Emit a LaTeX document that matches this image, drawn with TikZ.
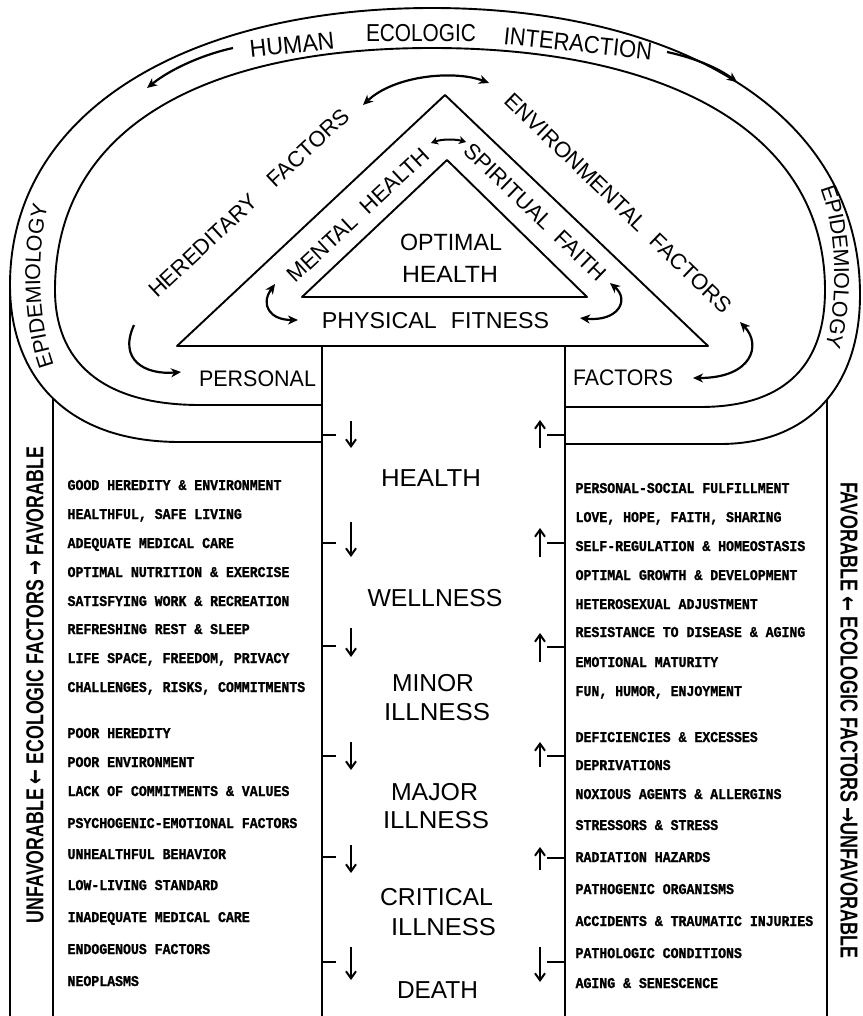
\documentclass[tikz,border=0pt]{standalone}
\usepackage{fontspec}
\usepackage{graphicx}
\setmainfont{Liberation Sans}
\newfontfamily\listfont[FakeStretch=0.88,FakeBold=1.2]{Liberation Mono}
\newfontfamily\arrowfont{DejaVu Sans}
\usetikzlibrary{arrows.meta,decorations.text,intersections}
\newcommand\setfs[1]{\fontsize{#1}{#1}\selectfont}
\newcommand\fitw[2]{\resizebox{#1pt}{\height}{#2}}

\begin{document}
\begin{tikzpicture}[x=1pt,y=-1pt,
  every node/.style={inner sep=0pt, outer sep=0pt},
  rim/.style={line width=1.9pt, line join=round},
  level/.style={font=\setfs{24.5}},
  side/.style={font=\setfs{22}},
  banner/.style={font=\setfs{24.5}},
  item/.style={font=\listfont\bfseries\setfs{15}, anchor=base west},
  swing/.style={line width=2.2pt, {Stealth[length=10pt,width=9pt,inset=3pt]}-{Stealth[length=10pt,width=9pt,inset=3pt]}},
  swingone/.style={line width=2.2pt, -{Stealth[length=10pt,width=9pt,inset=3pt]}},
  drift/.style={line width=2pt, -{Straight Barb[length=7pt,width=10pt]}},
  tick/.style={line width=2pt}
]
\useasboundingbox (0,0) rectangle (862,1016);

% ---- the ecologic loop: outer and inner rims
\draw[rim, name path=outer]
  (322,442) -- (180,442) .. controls (60,442) and (10,370) .. (10,285)
  .. controls (10,110) and (190,8) .. (432,8)
  .. controls (674,8) and (860,110) .. (860,295)
  .. controls (860,385) and (810,444) .. (720,444) -- (565,444);
\draw[rim]
  (322,405) -- (200,405) .. controls (100,405) and (55,360) .. (55,290)
  .. controls (55,130) and (200,48) .. (432,48)
  .. controls (664,48) and (825,130) .. (825,290)
  .. controls (825,370) and (780,407) .. (700,407) -- (565,407);

% ---- column rules
\draw[rim] (10,285) -- (10,1016);
\path[name path=cutL] (53,300) -- (53,500);
\path[name path=cutR] (827,300) -- (827,500);
\draw[rim, name intersections={of=outer and cutL, by=jl}] (jl) -- (53,1016);
\draw[rim, name intersections={of=outer and cutR, by=jr}] (jr) -- (827,1016);
\draw[rim] (322,346) -- (322,1016);
\draw[rim] (565,346) -- (565,1016);

% ---- triangles
\draw[rim] (177,346) -- (708,346) -- (445,95) -- cycle;
\draw[rim] (302,297) -- (587,297) -- (447,160) -- cycle;

% ---- texts in the loop band
\node[banner, rotate=6] (hum) at (292,45) {\fitw{85}{HUMAN}};
\node[banner] (eco) at (421,33.5) {\fitw{110}{ECOLOGIC}};
\node[banner, rotate=-6] (inter) at (578,43.5) {\fitw{149}{INTERACTION}};
\path[decoration={text along path, text={|\setfs{21.5}|EPIDEMIOLOGY},
  text align=center, raise=-7pt}, decorate]
  (58,390) .. controls (28,340) and (26,240) .. (48,180);
\path[decoration={text along path, text={|\setfs{21.5}|EPIDEMIOLOGY},
  text align=center, raise=-7pt}, decorate]
  (822,175) .. controls (845,220) and (848,310) .. (828,360);

% ---- arrows along the top of the band
\coordinate (hl) at (233,48);  \coordinate (hlt) at (147,88);
\coordinate (hr) at (667,52);  \coordinate (hrt) at (737,82);
\draw[swingone] (hl) .. controls (205,54) and (172,68) .. (hlt);
\draw[swingone] (hr) .. controls (695,58) and (718,68) .. (hrt);

% ---- labels of the triangles
\node[side, rotate=43] (hered) at (249,203) {HEREDITARY\hspace{22pt}FACTORS};
\node[side, rotate=-44] (envir) at (618,203) {ENVIRONMENTAL\hspace{14pt}FACTORS};
\node[side, rotate=43] (mental) at (358,215) {MENTAL\hspace{12pt}HEALTH};
\node[side, rotate=-44] (spirit) at (535,212) {SPIRITUAL\hspace{12pt}FAITH};
\node[font=\setfs{23.5}] (opt) at (451,242.5) {\fitw{102}{OPTIMAL}};
\node[font=\setfs{23.5}] (opth) at (450,274.5) {\fitw{96}{HEALTH}};
\node[font=\setfs{23}] (phys) at (435.5,321) {\fitw{227}{PHYSICAL\hspace{14pt}FITNESS}};
\node[font=\setfs{22.5}] (pers) at (257.5,379) {\fitw{117}{PERSONAL}};
\node[font=\setfs{22.5}] (fact) at (623,378) {\fitw{100}{FACTORS}};

% ---- interaction arrows round the triangles
\coordinate (ta) at (363,105); \coordinate (tb) at (489,83);
\draw[swing] (ta) .. controls (395,75) and (455,70) .. (tb);
\coordinate (aa) at (431,143); \coordinate (ab) at (466,142);
\draw[line width=2pt, {Stealth[length=7pt,width=8pt,inset=2pt]}-{Stealth[length=7pt,width=8pt,inset=2pt]}]
  (aa) .. controls (442,139) and (455,139) .. (ab);
\coordinate (ma) at (275,284); \coordinate (mb) at (298,320);
\draw[swing] (ma) .. controls (260,305) and (270,320) .. (mb);
\coordinate (sa) at (580,318); \coordinate (sb) at (610,283);
\draw[swing] (sa) .. controls (618,322) and (630,300) .. (sb);
\coordinate (pa) at (134,325); \coordinate (pb) at (181,372);
\draw[swingone] (pa) .. controls (118,360) and (145,375) .. (pb);
\coordinate (fa) at (740,322); \coordinate (fb) at (693,378);
\draw[swing] (fa) .. controls (762,345) and (752,378) .. (fb);

% ---- levels of health
\node[level] (lv1) at (431,478) {\fitw{100}{HEALTH}};
\node[level] (lv2) at (435,598) {\fitw{135}{WELLNESS}};
\node[level] (lv3) at (433,683) {\fitw{82}{MINOR}};
\node[level] (lv3b) at (437,712) {\fitw{106}{ILLNESS}};
\node[level] (lv4) at (434.5,792) {\fitw{87}{MAJOR}};
\node[level] (lv4b) at (436,820) {\fitw{106}{ILLNESS}};
\node[level] (lv5) at (436.5,897) {\fitw{113}{CRITICAL}};
\node[level] (lv5b) at (443.5,927) {\fitw{105}{ILLNESS}};
\node[level] (lv6) at (437.5,990) {\fitw{81}{DEATH}};

% ---- drift arrows in the central column
\foreach \d/\a/\b in {435/421/448, 543/522/557, 646/628/657, 756/742/770, 857/845/873, 962/947/980}{
  \draw[tick] (322,\d) -- (336,\d);
  \draw[drift] (351,\a) -- (351,\b);
}
\foreach \d/\a/\b in {435/448/420, 543/557/528, 647/662/633, 756/767/742, 858/870/847, 962/947/982}{
  \draw[tick] (547,\d) -- (565,\d);
  \draw[drift] (540,\a) -- (540,\b);
}

% ---- side scales
\node[rotate=90, font=\bfseries\setfs{24.5}] (scaleL) at (35,685)
  {\fitw{476}{UNFAVORABLE {\arrowfont\bfseries ←} ECOLOGIC FACTORS {\arrowfont\bfseries →} FAVORABLE}};
\node[rotate=-90, font=\bfseries\setfs{24.5}] (scaleR) at (849,720)
  {\fitw{476}{FAVORABLE {\arrowfont\bfseries ←} ECOLOGIC FACTORS {\arrowfont\bfseries →}UNFAVORABLE}};

% ---- factor lists
\foreach \t/\y [count=\i] in {
  GOOD HEREDITY \& ENVIRONMENT/485, {HEALTHFUL, SAFE LIVING}/514,
  ADEQUATE MEDICAL CARE/543, OPTIMAL NUTRITION \& EXERCISE/572,
  SATISFYING WORK \& RECREATION/601, REFRESHING REST \& SLEEP/629,
  {LIFE SPACE, FREEDOM, PRIVACY}/658, {CHALLENGES, RISKS, COMMITMENTS}/687,
  POOR HEREDITY/733, POOR ENVIRONMENT/762, LACK OF COMMITMENTS \& VALUES/791,
  PSYCHOGENIC-EMOTIONAL FACTORS/823, UNHEALTHFUL BEHAVIOR/854,
  LOW-LIVING STANDARD/885, INADEQUATE MEDICAL CARE/917,
  ENDOGENOUS FACTORS/949, NEOPLASMS/981}{
  \node[item] (L\i) at (67.6,\y+5) {\t};
}
\foreach \t/\y [count=\i] in {
  PERSONAL-SOCIAL FULFILLMENT/488, {LOVE, HOPE, FAITH, SHARING}/517,
  SELF-REGULATION \& HOMEOSTASIS/546, OPTIMAL GROWTH \& DEVELOPMENT/575,
  HETEROSEXUAL ADJUSTMENT/604, RESISTANCE TO DISEASE \& AGING/632,
  EMOTIONAL MATURITY/662, {FUN, HUMOR, ENJOYMENT}/691,
  DEFICIENCIES \& EXCESSES/737, DEPRIVATIONS/765,
  NOXIOUS AGENTS \& ALLERGINS/794, STRESSORS \& STRESS/825,
  RADIATION HAZARDS/857, PATHOGENIC ORGANISMS/889,
  ACCIDENTS \& TRAUMATIC INJURIES/921, PATHOLOGIC CONDITIONS/953,
  AGING \& SENESCENCE/983}{
  \node[item] (R\i) at (575.6,\y+5) {\t};
}
\end{tikzpicture}
\end{document}
